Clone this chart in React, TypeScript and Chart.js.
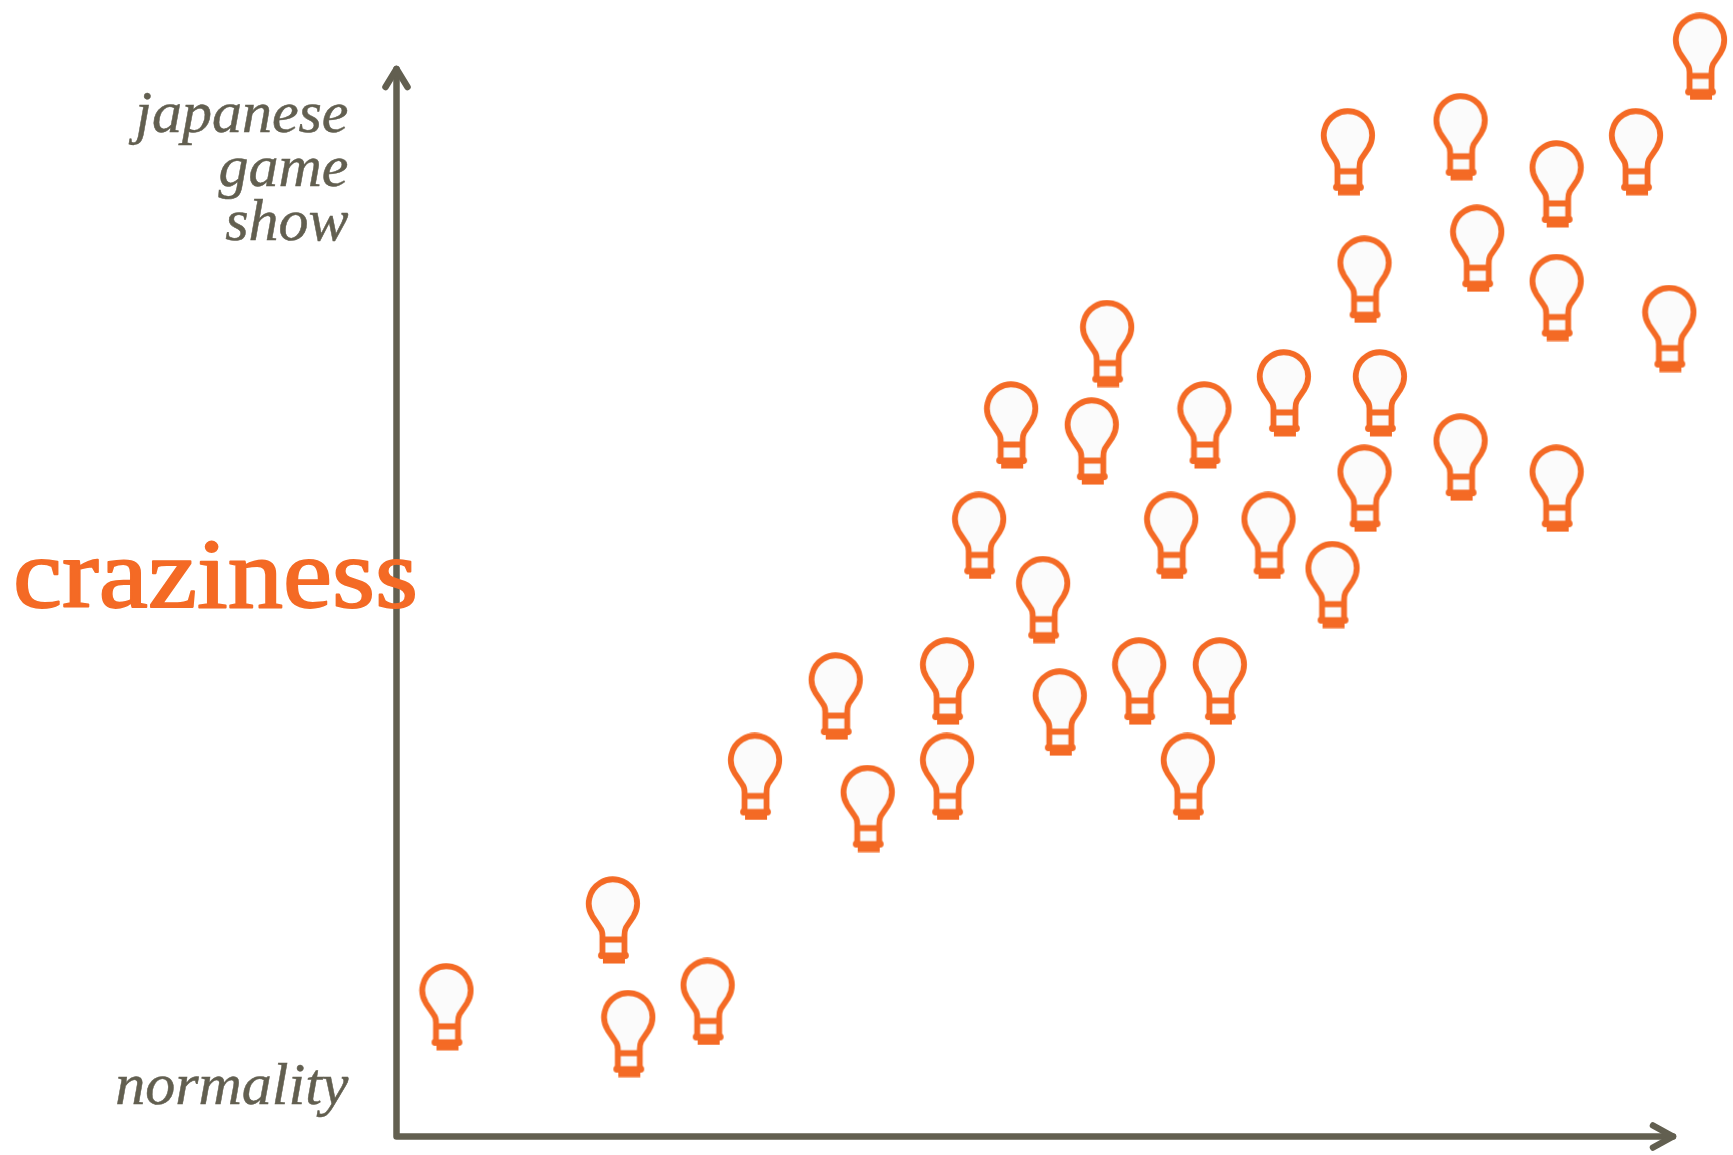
import React, { useEffect, useRef } from "react";
import { Chart, registerables } from "chart.js";

Chart.register(...registerables);

const xValues = [3.9, 16.9, 18.1, 24.3, 28.0, 34.3, 36.8, 43.0, 43.0, 51.8, 58.0, 64.3, 61.8, 50.5, 45.5, 48.0, 54.3, 55.5, 60.5, 63.1, 68.1, 69.3, 73.1, 75.6, 76.8, 83.1, 90.6, 75.6, 74.3, 83.1, 84.4, 90.6, 90.6, 96.8, 99.4, 101.8];
const yValues = [12.1, 20.2, 9.6, 12.6, 33.6, 41.1, 30.6, 42.5, 33.6, 39.6, 42.5, 42.5, 33.6, 50.1, 56.1, 66.4, 64.9, 74.0, 56.1, 66.4, 56.1, 69.4, 51.5, 60.5, 69.4, 63.4, 60.5, 80.0, 91.9, 93.3, 82.9, 88.9, 78.3, 91.9, 75.4, 100.8];
const yTickValues = [4.5, 90.2];
const yTickLabels = [["normality"], ["japanese", "game", "show"]];
const axisTitle = "craziness";

const AXIS = "#625f50";
const ORANGE = "#f46a25";

function makeBulb(): HTMLCanvasElement {
  const c = document.createElement("canvas");
  c.width = 56;
  c.height = 88;
  const g = c.getContext("2d")!;
  g.translate(1, 0.5);
  g.strokeStyle = ORANGE;
  g.fillStyle = "#fbfbfb";
  g.lineWidth = 5.8;
  g.lineJoin = "round";
  g.lineCap = "round";
  g.beginPath();
  g.arc(27, 27, 24.2, (148 * Math.PI) / 180, (32 * Math.PI) / 180);
  g.lineTo(40, 51);
  g.quadraticCurveTo(38.5, 54, 38.5, 59);
  g.lineTo(38.5, 79);
  g.lineTo(16.5, 79);
  g.lineTo(16.5, 59);
  g.quadraticCurveTo(16.5, 54, 14, 51);
  g.closePath();
  g.fill();
  g.stroke();
  g.beginPath();
  g.moveTo(17, 63);
  g.lineTo(38, 63);
  g.stroke();
  g.fillStyle = ORANGE;
  g.fillRect(17, 80, 22, 7);
  g.beginPath();
  g.arc(15.5, 79, 3.4, 0, Math.PI * 2);
  g.arc(39.5, 79, 3.4, 0, Math.PI * 2);
  g.fill();
  return c;
}

const axesPlugin = {
  id: "arrowAxes",
  beforeDatasetsDraw(chart: any) {
    const { ctx, scales } = chart;
    const x0 = scales.x.getPixelForValue(0);
    const x1 = scales.x.getPixelForValue(100);
    const y0 = scales.y.getPixelForValue(0);
    const y1 = scales.y.getPixelForValue(100);
    ctx.save();
    ctx.strokeStyle = AXIS;
    ctx.lineWidth = 6.5;
    ctx.lineCap = "round";
    ctx.lineJoin = "round";
    ctx.beginPath();
    ctx.moveTo(x0, y1 + 4);
    ctx.lineTo(x0, y0);
    ctx.lineTo(x1 - 4, y0);
    ctx.stroke();
    ctx.beginPath();
    ctx.moveTo(x0 - 11, y1 + 22);
    ctx.lineTo(x0, y1 + 4);
    ctx.lineTo(x0 + 11, y1 + 22);
    ctx.moveTo(x1 - 24, y0 - 11);
    ctx.lineTo(x1 - 4, y0);
    ctx.lineTo(x1 - 24, y0 + 11);
    ctx.stroke();
    ctx.restore();
  },
  afterDraw(chart: any) {
    const { ctx } = chart;
    ctx.save();
    ctx.fillStyle = ORANGE;
    ctx.strokeStyle = ORANGE;
    ctx.lineWidth = 1.8;
    ctx.lineJoin = "round";
    ctx.font = "100px 'Liberation Serif'";
    ctx.textAlign = "left";
    ctx.textBaseline = "alphabetic";
    ctx.translate(13, 607);
    ctx.scale(1.105, 1);
    ctx.fillText(axisTitle, 0, 0);
    ctx.strokeText(axisTitle, 0, 0);
    ctx.restore();
  },
};

export default function App() {
  const ref = useRef<HTMLCanvasElement>(null);
  useEffect(() => {
    document.body.style.margin = "0";
    const bulb = makeBulb();
    const chart = new Chart(ref.current!, {
      type: "scatter",
      data: {
        datasets: [
          {
            data: xValues.map((x, i) => ({ x, y: yValues[i] })),
            pointStyle: bulb,
            pointRadius: 30,
            clip: false,
          } as any,
        ],
      },
      options: {
        animation: false,
        responsive: false,
        events: [],
        layout: { autoPadding: false, padding: { left: 0, top: 65, right: 56, bottom: 0 } },
        plugins: { legend: { display: false }, title: { display: false }, tooltip: { enabled: false } },
        scales: {
          x: {
            type: "linear",
            min: 0,
            max: 100,
            grid: { display: false, drawTicks: false },
            border: { display: false },
            ticks: { display: false },
            afterFit(s: any) {
              s.height = 18.5;
              s.paddingLeft = 0;
              s.paddingRight = 0;
            },
          },
          y: {
            type: "linear",
            min: 0,
            max: 100,
            grid: { display: false, drawTicks: false },
            border: { display: false },
            afterBuildTicks(s: any) {
              s.ticks = yTickValues.map((value) => ({ value }));
            },
            afterFit(s: any) {
              s.width = 396.5;
              s.paddingTop = 0;
              s.paddingBottom = 0;
            },
            ticks: {
              autoSkip: false,
              padding: 48,
              color: AXIS,
              textStrokeColor: AXIS,
              textStrokeWidth: 0.5,
              font: { family: "'Liberation Serif'", style: "italic", size: 60, lineHeight: 0.9 },
              callback: (v: any) => yTickLabels[yTickValues.indexOf(v)] ?? "",
            },
          },
        },
      },
      plugins: [axesPlugin],
    } as any);
    return () => chart.destroy();
  }, []);
  return <canvas ref={ref} width={1733} height={1155} style={{ display: "block", position: "absolute", left: 0, top: 0 }} />;
}
